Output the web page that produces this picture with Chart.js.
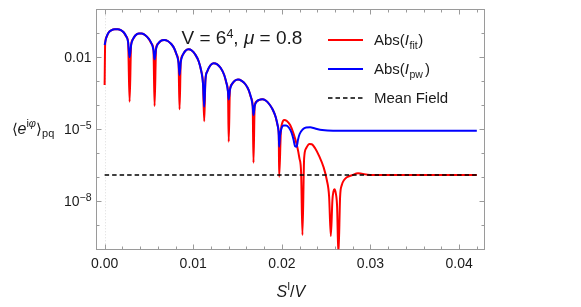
<!DOCTYPE html>
<html>
<head>
<meta charset="utf-8">
<script src="https://cdn.jsdelivr.net/npm/chart.js@4.4.0/dist/chart.umd.min.js"></script>
<style>
  html, body { margin: 0; padding: 0; background: #fff; }
  canvas { display: block; }
</style>
</head>
<body>
<canvas id="chart" width="581" height="307"></canvas>
<script>
// S^I/V values and log10 of the curve
const pwX = [0, 0.000192, 0.000417, 0.000755, 0.00115, 0.001488, 0.001826, 0.002165, 0.002446, 0.002649, 0.002818,
  0.002988, 0.003179, 0.003461, 0.003856, 0.004194, 0.004589, 0.004983, 0.005321, 0.005513, 0.005637,
  0.005806, 0.00602, 0.006336, 0.006731, 0.007125, 0.00752, 0.007858, 0.00814, 0.008343, 0.008455,
  0.008591, 0.008816, 0.009098, 0.00947, 0.009831, 0.010225, 0.01062, 0.010902, 0.011105, 0.01124,
  0.011375, 0.011578, 0.011916, 0.012289, 0.012706, 0.0131, 0.013495, 0.013777, 0.013923, 0.014002,
  0.014138, 0.01434, 0.014679, 0.015051, 0.015468, 0.015862, 0.016257, 0.016539, 0.016708, 0.016798,
  0.016933, 0.017159, 0.017441, 0.017779, 0.018174, 0.018568, 0.018963, 0.019301, 0.019538, 0.019651, 0.019696,
  0.019786, 0.019955, 0.020203, 0.020485, 0.020823, 0.021105, 0.02133, 0.021477, 0.021669, 0.021815,
  0.022007, 0.022345, 0.02274, 0.023191, 0.023754, 0.024543, 0.025784, 0.031082, 0.042];
const pwLog = [-1.49, -1.175, -0.988, -0.875, -0.833, -0.833, -0.871, -0.967, -1.133, -1.363, -2.0,
  -1.488, -1.258, -1.092, -1.004, -1.01, -1.079, -1.229, -1.446, -1.696, -2.083,
  -1.633, -1.438, -1.313, -1.279, -1.321, -1.446, -1.633, -1.904, -2.238, -2.738,
  -2.196, -1.904, -1.738, -1.667, -1.717, -1.883, -2.175, -2.571, -3.113, -4.058,
  -2.946, -2.592, -2.342, -2.25, -2.292, -2.446, -2.738, -3.113, -3.446, -3.758,
  -3.363, -3.133, -2.979, -2.925, -2.979, -3.113, -3.363, -3.696, -4.029, -4.404,
  -4.029, -3.842, -3.771, -3.746, -3.8, -3.946, -4.175, -4.488, -4.863, -5.238, -5.725,
  -5.279, -4.967, -4.842, -4.842, -4.946, -5.154, -5.446, -5.696, -5.725, -5.446,
  -5.196, -5.008, -4.925, -4.917, -4.967, -5.029, -5.058, -5.058, -5.058];

const fitX = [0, 0.00006, 0.000192, 0.000417, 0.000755, 0.00115, 0.001488, 0.001826, 0.002165, 0.002446, 0.002649, 0.002818,
  0.002988, 0.003179, 0.003461, 0.003856, 0.004194, 0.004589, 0.004983, 0.005321, 0.005513, 0.005637,
  0.005806, 0.00602, 0.006336, 0.006731, 0.007125, 0.00752, 0.007858, 0.00814, 0.008343, 0.008455,
  0.008591, 0.008816, 0.009098, 0.00947, 0.009831, 0.010225, 0.01062, 0.010902, 0.011105, 0.01124,
  0.011375, 0.011578, 0.011916, 0.012289, 0.012706, 0.0131, 0.013495, 0.013777, 0.013923, 0.014002,
  0.014138, 0.01434, 0.014679, 0.015051, 0.015468, 0.015862, 0.016257, 0.016539, 0.016708, 0.016798,
  0.016933, 0.017159, 0.017441, 0.017779, 0.018174, 0.018568, 0.018963, 0.019301, 0.019538, 0.019651, 0.019696,
  0.019887, 0.020034, 0.020259, 0.020564, 0.020936, 0.021308, 0.021691, 0.021984, 0.022176, 0.022322,
  0.022514, 0.02274, 0.023112, 0.023382, 0.023754, 0.024239, 0.02469, 0.025073, 0.025333, 0.025524,
  0.025705, 0.025817, 0.02593, 0.026088, 0.026234, 0.026381, 0.026573, 0.026764, 0.027024, 0.027328,
  0.027892, 0.028602, 0.029955, 0.042];
const fitLog = [-3.154, -1.45, -1.175, -0.988, -0.875, -0.833, -0.833, -0.871, -0.967, -1.133, -1.363, -3.85,
  -1.488, -1.258, -1.092, -1.004, -1.01, -1.079, -1.229, -1.446, -1.696, -4.029,
  -1.633, -1.438, -1.313, -1.279, -1.321, -1.446, -1.633, -1.904, -2.238, -4.167,
  -2.196, -1.904, -1.738, -1.667, -1.717, -1.883, -2.175, -2.571, -3.113, -4.663,
  -2.946, -2.592, -2.342, -2.25, -2.292, -2.446, -2.738, -3.113, -3.446, -5.517,
  -3.363, -3.133, -2.979, -2.925, -2.979, -3.113, -3.363, -3.696, -4.029, -6.392,
  -4.029, -3.842, -3.771, -3.746, -3.8, -3.946, -4.175, -4.488, -4.863, -5.238, -6.975,
  -5.1, -4.75, -4.613, -4.654, -4.821, -5.167, -5.654, -6.208, -6.833, -9.404,
  -6.208, -5.792, -5.613, -5.625, -5.792, -6.142, -6.558, -7.113, -7.808, -9.446,
  -7.946, -7.6, -7.5, -7.667, -8.225, -10.24, -7.808, -7.32, -7.113, -7.0,
  -6.917, -6.833, -6.904, -6.904];

const meanFieldX = [0, 0.042];
const meanFieldLog = [-6.904, -6.904];

const xTicks = [0, 0.01, 0.02, 0.03, 0.04];
const xTickLabels = ["0.00", "0.01", "0.02", "0.03", "0.04"];
const yTicks = [1e-2, 1e-5, 1e-8];
const yTickLabels = [["0.01", ""], ["10", "\u22125"], ["10", "\u22128"]];

const F = '"Liberation Sans", Arial, sans-serif';
const TXT = "#1a1a1a";

function toPoints(xs, logs) {
  return xs.map((x, i) => ({ x, y: Math.pow(10, logs[i]) }));
}

// draw a row of text pieces (font / vertical shift), return end x
function drawRuns(ctx, x, y, parts) {
  for (const p of parts) {
    ctx.font = p.f;
    ctx.fillText(p.t, x, y + (p.dy || 0));
    x += ctx.measureText(p.t).width + (p.gap || 0);
  }
  return x;
}
function runsWidth(ctx, parts) {
  let w = 0;
  for (const p of parts) { ctx.font = p.f; w += ctx.measureText(p.t).width + (p.gap || 0); }
  return w;
}

const framePlugin = {
  id: "frame",
  beforeDatasetsDraw(chart) {
    const { ctx, chartArea: a, scales: { x, y } } = chart;
    ctx.save();
    // faint dotted line at 0
    const x0 = Math.round(x.getPixelForValue(0)) + 0.5;
    ctx.strokeStyle = "#dcdcdc";
    ctx.lineWidth = 1;
    ctx.setLineDash([1, 2]);
    ctx.beginPath(); ctx.moveTo(x0, a.top); ctx.lineTo(x0, a.bottom); ctx.stroke();
    ctx.setLineDash([]);

    const L = 96.5, R = 484.5, T = 9.5, B = 249.5;
    ctx.strokeStyle = "#9a9a9a";
    ctx.strokeRect(L, T, R - L, B - T);

    ctx.beginPath();
    for (let i = 0; i <= 21; i++) {
      const px = Math.round(x.getPixelForValue(i * 0.002)) + 0.5;
      const len = i % 5 === 0 ? 5 : 3;
      ctx.moveTo(px, B); ctx.lineTo(px, B - len);
      ctx.moveTo(px, T); ctx.lineTo(px, T + len);
    }
    for (let d = -9; d <= -1; d++) {
      const py = Math.round(y.getPixelForValue(Math.pow(10, d))) + 0.5;
      const len = (d === -2 || d === -5 || d === -8) ? 5 : 3;
      ctx.moveTo(L, py); ctx.lineTo(L + len, py);
      ctx.moveTo(R, py); ctx.lineTo(R - len, py);
    }
    ctx.stroke();
    ctx.restore();
  },
  afterDraw(chart) {
    const { ctx, scales: { x, y } } = chart;
    ctx.save();
    ctx.fillStyle = TXT;
    ctx.textBaseline = "alphabetic";

    // x tick labels
    ctx.font = "14px " + F;
    ctx.textAlign = "center";
    xTicks.forEach((v, i) => ctx.fillText(xTickLabels[i], x.getPixelForValue(v), 267.5));
    ctx.textAlign = "left";

    // y tick labels, right aligned
    yTicks.forEach((v, i) => {
      const py = y.getPixelForValue(v) + 5;
      const parts = [{ t: yTickLabels[i][0], f: "14px " + F }];
      if (yTickLabels[i][1]) parts.push({ t: yTickLabels[i][1], f: "10.5px " + F, dy: -5.5 });
      drawRuns(ctx, 91.5 - runsWidth(ctx, parts), py, parts);
    });

    // axis labels
    drawRuns(ctx, 11.5, 133.5, [
      { t: "\u27E8", f: "15px " + F },
      { t: "e", f: "italic 16px " + F },
      { t: "i", f: "11px " + F, dy: -7 },
      { t: "\u03C6", f: "italic 11px " + F, dy: -7 },
      { t: "\u27E9", f: "15px " + F },
      { t: "pq", f: "11px " + F, dy: 3.5 }
    ]);
    drawRuns(ctx, 276.5, 296.5, [
      { t: "S", f: "italic 16px " + F },
      { t: "I", f: "10.5px " + F, dy: -7 },
      { t: "/", f: "16px " + F },
      { t: "V", f: "italic 16px " + F }
    ]);

    // title
    drawRuns(ctx, 181.5, 44.3, [
      { t: "V = 6", f: "19px " + F },
      { t: "4", f: "12.5px " + F, dy: -6.5 },
      { t: ", ", f: "19px " + F },
      { t: "\u03BC", f: "italic 19px " + F },
      { t: " = 0.8", f: "19px " + F }
    ]);

    // legend
    const rows = [
      { color: "#ff0000", dash: [], sub: "fit", y: 40 },
      { color: "#0000ff", dash: [], sub: "pw", y: 69 },
      { color: "#000000", dash: [4.5, 3], sub: null, y: 98 }
    ];
    rows.forEach(r => {
      ctx.strokeStyle = r.color;
      ctx.lineWidth = r.sub ? 2 : 1.6;
      ctx.setLineDash(r.dash);
      ctx.beginPath(); ctx.moveTo(328, r.y); ctx.lineTo(363, r.y); ctx.stroke();
      ctx.setLineDash([]);
      const base = r.y + 5.3;
      if (r.sub) {
        drawRuns(ctx, 374, base, [
          { t: "Abs(", f: "15px " + F },
          { t: "I", f: "italic 15px " + F, gap: 0.5 },
          { t: r.sub, f: "10.5px " + F, dy: 3.5, gap: r.sub === "pw" ? 2 : 0.5 },
          { t: ")", f: "15px " + F }
        ]);
      } else {
        drawRuns(ctx, 374, base, [{ t: "Mean Field", f: "15px " + F }]);
      }
    });
    ctx.restore();
  }
};

new Chart(document.getElementById("chart"), {
  type: "line",
  data: {
    datasets: [
      {
        label: "Mean Field",
        data: toPoints(meanFieldX, meanFieldLog),
        borderColor: "#000000",
        borderWidth: 1.6,
        borderDash: [4.5, 3],
        tension: 0,
        order: 0
      },
      {
        label: "Abs(I_pw)",
        data: toPoints(pwX, pwLog),
        borderColor: "#0000ff",
        borderWidth: 2,
        cubicInterpolationMode: "monotone",
        order: 1
      },
      {
        label: "Abs(I_fit)",
        data: toPoints(fitX, fitLog),
        borderColor: "#ff0000",
        borderWidth: 2,
        cubicInterpolationMode: "monotone",
        order: 2
      }
    ]
  },
  options: {
    responsive: false,
    animation: false,
    devicePixelRatio: 1,
    parsing: false,
    layout: { padding: { left: 97, right: 97, top: 9.3, bottom: 57.7 } },
    plugins: { legend: { display: false }, tooltip: { enabled: false } },
    elements: { point: { radius: 0 } },
    scales: {
      x: { type: "linear", min: -0.00086, max: 0.04281, display: false },
      y: { type: "logarithmic", min: 1e-10, max: 1, display: false }
    }
  },
  plugins: [framePlugin]
});
</script>
</body>
</html>
